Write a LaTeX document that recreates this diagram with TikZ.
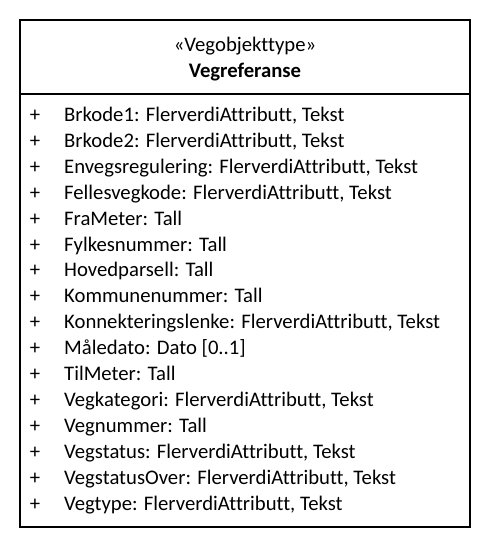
\documentclass[tikz,border=0pt]{standalone}
\usepackage{fontspec}
\setmainfont{Carlito}[RawFeature={-liga}]
\begin{document}
\begin{tikzpicture}[x=1pt,y=-1pt,
  classbox/.style={draw=black,line width=2pt},
  txt/.style={inner sep=0pt,font=\fontsize{20.7}{24}\selectfont},
  attr/.style={txt,anchor=base west},
  vis/.style={txt,anchor=base},
  head/.style={txt,anchor=base}]
\useasboundingbox (0,0) rectangle (492,548);
\draw[classbox] (20,20) rectangle (470,527);
\draw[classbox] (20,94) -- (470,94);
\node[head] (stereo) at (245,51.5) {«Vegobjekttype»};
\node[head,font=\fontsize{20.7}{24}\selectfont\bfseries] (name) at (245,77.5) {Vegreferanse};
\foreach \t [count=\i from 0] in {
  {Brkode1: FlerverdiAttributt, Tekst},
  {Brkode2: FlerverdiAttributt, Tekst},
  {Envegsregulering: FlerverdiAttributt, Tekst},
  {Fellesvegkode: FlerverdiAttributt, Tekst},
  {FraMeter: Tall},
  {Fylkesnummer: Tall},
  {Hovedparsell: Tall},
  {Kommunenummer: Tall},
  {Konnekteringslenke: FlerverdiAttributt, Tekst},
  {Måledato: Dato [0..1]},
  {TilMeter: Tall},
  {Vegkategori: FlerverdiAttributt, Tekst},
  {Vegnummer: Tall},
  {Vegstatus: FlerverdiAttributt, Tekst},
  {VegstatusOver: FlerverdiAttributt, Tekst},
  {Vegtype: FlerverdiAttributt, Tekst}} {
  \node[vis] (v\i) at (35,121.5+25.9*\i) {+};
  \node[attr] (a\i) at (64,121.5+25.9*\i) {\t};
}
\end{tikzpicture}
\end{document}
